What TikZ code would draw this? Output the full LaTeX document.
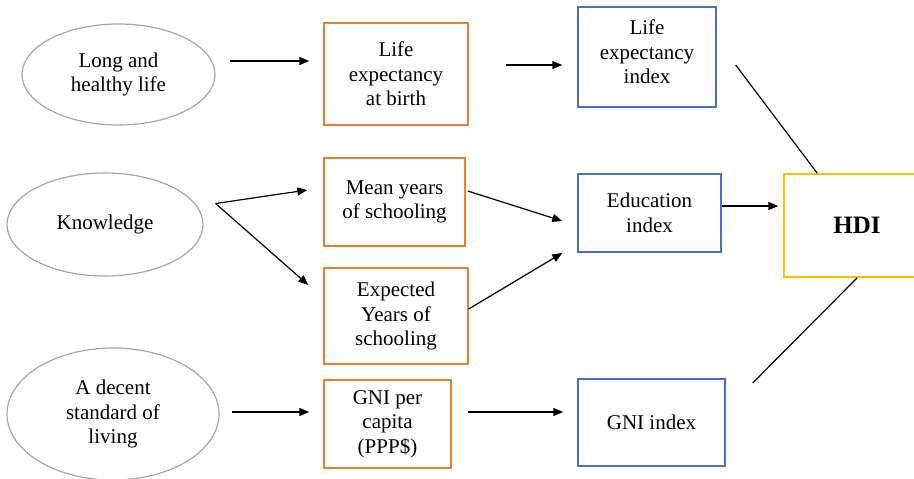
\documentclass[tikz,border=0pt]{standalone}
\usepackage{fontspec}
\setmainfont{Liberation Serif}
\usetikzlibrary{shapes.geometric,arrows.meta}

\definecolor{goalgray}{HTML}{A6A6A6}
\definecolor{indorange}{HTML}{ED7D31}
\definecolor{idxblue}{HTML}{4472C4}
\definecolor{hdigold}{HTML}{FFC000}

\tikzset{
	goal/.style={draw=goalgray, line width=1.2pt, ellipse, inner sep=0pt, align=center},
	indicator/.style={draw=indorange, line width=1.4pt, rectangle, inner sep=0pt, align=center},
	dimidx/.style={draw=idxblue, line width=1.4pt, rectangle, inner sep=0pt, align=center},
	hdibox/.style={draw=hdigold, line width=1.4pt, rectangle, inner sep=0pt, align=center},
	arr/.style={line width=1.2pt, -{Triangle[length=10pt,width=8pt]}},
	link/.style={line width=1.2pt}
}

\begin{document}
\begin{tikzpicture}[x=1pt, y=-1pt, font=\fontsize{21}{24.5}\selectfont]
		\useasboundingbox (0,0) rectangle (914,479);
		% Dimensions
		\node[goal, minimum width=193pt, minimum height=101pt] (health) at (118.5,74.5) {Long and\\healthy life};
		\node[goal, minimum width=196pt, minimum height=103pt] (know) at (105,224.5) {Knowledge};
		\node[goal, minimum width=212pt, minimum height=132pt] (living) at (113,414) {A decent\\standard of\\living};
		% Indicators
		\node[indicator, minimum width=144pt, minimum height=102pt] (lifebirth) at (396,74) {Life\\expectancy\\at birth};
		\node[indicator, minimum width=141pt, minimum height=88pt] (meanyrs) at (394.5,202) {Mean years\\of schooling};
		\node[indicator, minimum width=144pt, minimum height=96pt] (expyrs) at (396,316) {Expected\\Years of\\schooling};
		\node[indicator, minimum width=127pt, minimum height=88pt] (gnicap) at (387.5,424) {GNI per\\capita\\(PPP\$)};
		% Dimension indices
		\node[dimidx, minimum width=138pt, minimum height=100pt] (lifeidx) at (647,57) {Life\\expectancy\\index\\[-14.5pt]};
		\node[dimidx, minimum width=143pt, minimum height=78pt] (eduidx) at (649.5,213) {Education\\index};
		\node[dimidx, minimum width=147pt, minimum height=87pt] (gniidx) at (651.5,422.5) {GNI index};
		\node[hdibox, minimum width=146pt, minimum height=103pt] (hdi) at (857,225.5) {\fontsize{25}{30}\selectfont\bfseries HDI};

		\draw[arr] ([shift={(14,-13.5)}]health.east) -- ([shift={(-14,-13)}]lifebirth.west);
		\draw[arr] ([shift={(37,-9)}]lifebirth.east) -- ([shift={(-15,8)}]lifeidx.west);
		\draw[arr] ([shift={(12,-21)}]know.east) -- ([shift={(-16,-12)}]meanyrs.west);
		\draw[arr] ([shift={(12,-21)}]know.east) -- ([shift={(-15,-31)}]expyrs.west);
		\draw[arr] ([shift={(2,-11)}]meanyrs.east) -- ([shift={(-15,8)}]eduidx.west);
		\draw[arr] ([shift={(0,-7)}]expyrs.east) -- ([shift={(-15,40)}]eduidx.west);
		\draw[arr] ([shift={(0,-7)}]eduidx.east) -- ([shift={(-5,-19.5)}]hdi.west);
		\draw[arr] ([shift={(12,-2)}]living.east) -- ([shift={(-14,-12)}]gnicap.west);
		\draw[arr] ([shift={(16,-12)}]gnicap.east) -- ([shift={(-14,-10.5)}]gniidx.west);
		\draw[link] ([shift={(19,8)}]lifeidx.east) -- ([shift={(34,0)}]hdi.north west);
		\draw[link] ([shift={(27,-39.5)}]gniidx.east) -- ([shift={(74,0)}]hdi.south west);
	\end{tikzpicture}
\end{document}
